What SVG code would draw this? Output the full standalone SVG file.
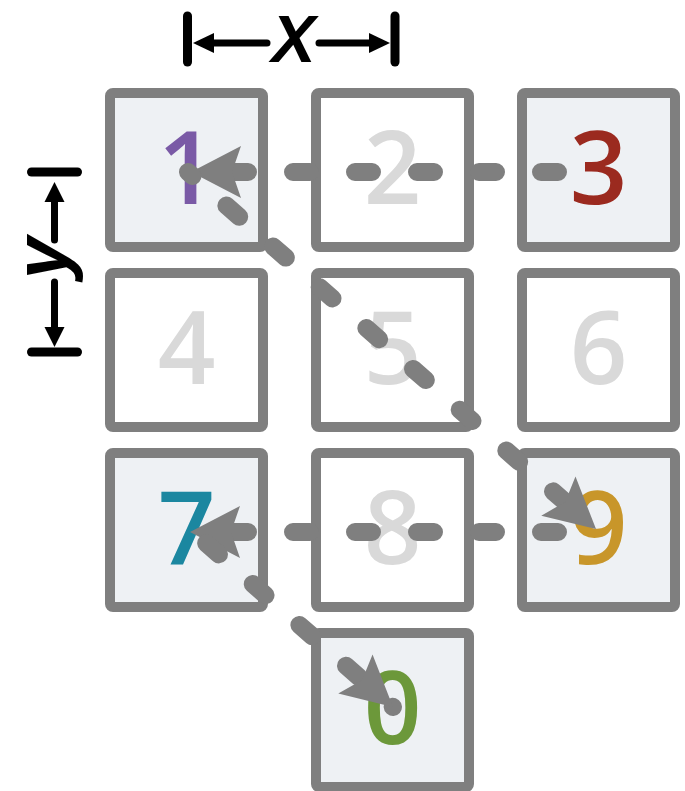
<svg xmlns="http://www.w3.org/2000/svg" width="685" height="791" viewBox="0 0 685 791">
<style>
.box{stroke:#7f7f7f;stroke-width:10;}
.on{fill:#eef1f4;}
.off{fill:#ffffff;}
.dig{font-family:"Open Sans","Liberation Sans",sans-serif;font-weight:600;font-size:101px;text-anchor:middle;}
.faint{fill:#d9d9d9;}
.conn{stroke:#7f7f7f;stroke-width:18;stroke-linecap:round;fill:none;stroke-dasharray:17 45;marker-end:url(#arr);}
.dim{stroke:#000;fill:none;stroke-linecap:round;}
.lbl{font-family:"Liberation Sans",Arial,sans-serif;font-weight:bold;font-style:italic;text-anchor:middle;fill:#000;}
</style>
<defs>
<marker id="arr" markerUnits="userSpaceOnUse" viewBox="-52 -28 54 56" markerWidth="54" markerHeight="56" refX="0" refY="0" orient="auto" overflow="visible">
<path d="M0,0 L-50,-26 L-41,0 L-50,26 Z" fill="#7f7f7f"/>
</marker>
</defs>
<rect width="685" height="791" fill="#ffffff"/>

<g id="dim-x">
<line class="dim" stroke-width="9" x1="187.5" y1="16" x2="187.5" y2="62"/>
<line class="dim" stroke-width="9" x1="395" y1="16" x2="395" y2="62"/>
<line class="dim" stroke-width="7" x1="267" y1="43" x2="206" y2="43"/>
<polygon points="193,43 214,33 214,53" fill="#000"/>
<line class="dim" stroke-width="7" x1="319" y1="43" x2="377" y2="43"/>
<polygon points="390,43 369,33 369,53" fill="#000"/>
<text class="lbl" x="293.5" y="62" font-size="66">X</text>
</g>
<g id="dim-y">
<line class="dim" stroke-width="9" x1="31.5" y1="172" x2="77.5" y2="172"/>
<line class="dim" stroke-width="9" x1="31.5" y1="352" x2="77.5" y2="352"/>
<line class="dim" stroke-width="7" x1="54.5" y1="240" x2="54.5" y2="196"/>
<polygon points="54.5,182 44.5,202 64.5,202" fill="#000"/>
<line class="dim" stroke-width="7" x1="54.5" y1="282" x2="54.5" y2="334"/>
<polygon points="54.5,347 44.5,327 64.5,327" fill="#000"/>
<text class="lbl" font-size="76" transform="translate(67,258) rotate(-90)" x="0" y="0">y</text>
</g>

<g id="key-1"><rect class="box on" x="110" y="93" width="153" height="154" rx="3"/><text class="dig" x="186.5" y="204" fill="#7a5aa6">1</text></g>
<g id="key-2"><rect class="box off" x="316" y="93" width="153" height="154" rx="3"/><text class="dig faint" x="392.5" y="204">2</text></g>
<g id="key-3"><rect class="box on" x="522" y="93" width="153" height="154" rx="3"/><text class="dig" x="598.5" y="204" fill="#9b2a1f">3</text></g>
<g id="key-4"><rect class="box off" x="110" y="273" width="153" height="154" rx="3"/><text class="dig faint" x="186.5" y="384">4</text></g>
<g id="key-5"><rect class="box off" x="316" y="273" width="153" height="154" rx="3"/><text class="dig faint" x="392.5" y="384">5</text></g>
<g id="key-6"><rect class="box off" x="522" y="273" width="153" height="154" rx="3"/><text class="dig faint" x="598.5" y="384">6</text></g>
<g id="key-7"><rect class="box on" x="110" y="453" width="153" height="154" rx="3"/><text class="dig" x="186.5" y="564" fill="#1b87a0">7</text></g>
<g id="key-8"><rect class="box off" x="316" y="453" width="153" height="154" rx="3"/><text class="dig faint" x="392.5" y="564">8</text></g>
<g id="key-9"><rect class="box on" x="522" y="453" width="153" height="154" rx="3"/><text class="dig" x="598.5" y="564" fill="#c8962a">9</text></g>
<g id="key-0"><rect class="box on" x="316" y="633" width="153" height="154" rx="3"/><text class="dig" x="392.5" y="744" fill="#6c983a">0</text></g>

<g id="connectors">
<line class="conn" x1="558" y1="172" x2="191" y2="172"/>
<line class="conn" x1="188" y1="172" x2="596" y2="529" stroke-dashoffset="11"/>
<line class="conn" x1="558" y1="532" x2="190" y2="532"/>
<line class="conn" x1="190" y1="529" x2="393" y2="707" stroke-dashoffset="40.5"/>
</g>
</svg>
